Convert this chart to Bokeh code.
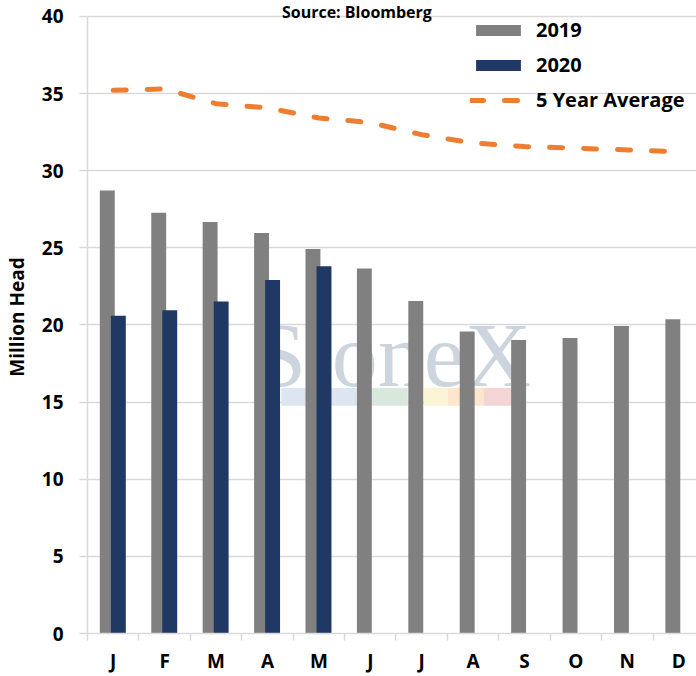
from bokeh.plotting import figure
from bokeh.models import Range1d, FixedTicker, Legend, LegendItem, Label, BoxAnnotation
from bokeh.core.properties import value
from bokeh.embed import file_html
from bokeh.resources import INLINE

# ---- data ----
months = ["J", "F", "M", "A", "M", "J", "J", "A", "S", "O", "N", "D"]
y2019 = [28.72, 27.27, 26.67, 25.97, 24.92, 23.67, 21.55, 19.57, 19.03, 19.16, 19.94, 20.37]
y2020 = [20.60, 20.95, 21.53, 22.91, 23.80]
avg5 = [35.21, 35.30, 34.35, 34.07, 33.42, 33.12, 32.34, 31.80, 31.57, 31.46, 31.35, 31.22]
y_ticks = [0, 5, 10, 15, 20, 25, 30, 35, 40]
title_text = "Source: Bloomberg"
y_label = "Million Head"
series_names = ["2019", "2020", "5 Year Average"]

# ---- styles ----
FONT = "Open Sans"
GRAY = "#808080"
NAVY = "#203864"
ORANGE = "#ED7D31"
GRID = "#d9d9d9"

idx = list(range(len(months)))
x19 = [i - 0.115 for i in idx]
x20 = [i + 0.10 for i in range(len(y2020))]

p = figure(width=696, height=676,
           x_range=Range1d(-0.5, 11.345), y_range=Range1d(0, 41.036),
           output_backend="svg", toolbar_location=None,
           min_border_left=86, min_border_right=0,
           min_border_top=0, min_border_bottom=42)
p.outline_line_color = None
p.background_fill_color = "white"
p.border_fill_color = "white"

# watermark (decorative, behind bars)
wm_bands = [(3.27, 5.02, "#dde6f0"), (5.02, 5.73, "#d9e8dc"), (6.04, 6.51, "#fbf5d6"),
            (6.51, 7.21, "#fce6cc"), (7.21, 7.77, "#f4d5d5")]
for l, r, c in wm_bands:
    p.add_layout(BoxAnnotation(left=l, right=r, bottom=14.76, top=15.92,
                               fill_color=c, fill_alpha=1, line_color=None, level="underlay"))
p.text(x=[2.76], y=[18.06], text=["StoneX"], text_font=value("Liberation Serif"),
       text_font_size="92px", text_color="#c3ccd8", text_alpha=0.85,
       text_baseline="alphabetic", text_align="left", level="underlay")

r19 = p.vbar(x=x19, top=y2019, width=0.29, fill_color=GRAY, line_color=None)
r20 = p.vbar(x=x20, top=y2020, width=0.29, fill_color=NAVY, line_color=None)
rav = p.line(x=idx, y=avg5, line_color=ORANGE, line_width=5, line_dash="13 21",
             line_cap="round", line_join="round")

# axes
p.xgrid.grid_line_color = None
p.ygrid.grid_line_color = GRID
p.ygrid.grid_line_width = 1.5
p.ygrid.ticker = FixedTicker(ticks=y_ticks)

xa = p.xaxis[0]
xa.ticker = FixedTicker(ticks=idx, minor_ticks=[i - 0.5 for i in range(len(months) + 1)])
xa.major_label_overrides = {i: m for i, m in enumerate(months)}
xa.axis_line_color = GRID
xa.axis_line_width = 1.5
xa.major_tick_out = 0
xa.major_tick_in = 0
xa.minor_tick_out = 7
xa.minor_tick_in = 0
xa.minor_tick_line_color = GRID
xa.minor_tick_line_width = 1.5
xa.major_label_text_font = FONT
xa.major_label_text_font_style = "bold"
xa.major_label_text_font_size = "19px"
xa.major_label_text_color = "black"
xa.major_label_standoff = 7

ya = p.yaxis[0]
ya.ticker = FixedTicker(ticks=y_ticks)
ya.bounds = (0, 40)
ya.axis_line_color = GRID
ya.axis_line_width = 1.5
ya.major_tick_out = 8
ya.major_tick_in = 0
ya.major_tick_line_color = GRID
ya.major_tick_line_width = 1.5
ya.minor_tick_line_color = None
ya.major_label_text_font = FONT
ya.major_label_text_font_style = "bold"
ya.major_label_text_font_size = "19px"
ya.major_label_text_color = "black"
ya.major_label_standoff = 16
ya.axis_label = y_label
ya.axis_label_text_font = FONT
ya.axis_label_text_font_style = "bold"
ya.axis_label_text_font_size = "19px"
ya.axis_label_text_color = "black"
ya.axis_label_standoff = 9

# title at the very top (above the 40 gridline)
p.add_layout(Label(x=4.74, y=40.98, text=title_text, text_font=FONT,
                   text_font_style="bold", text_font_size="16px", text_color="black",
                   text_align="center", text_baseline="top"))

legend = Legend(items=[LegendItem(label=series_names[0], renderers=[r19]),
                       LegendItem(label=series_names[1], renderers=[r20]),
                       LegendItem(label=series_names[2], renderers=[rav])],
                location=(383, 520), glyph_width=56, glyph_height=14, label_height=20,
                spacing=8, padding=0, margin=0, border_line_color=None,
                background_fill_alpha=0, label_standoff=10,
                label_text_font=FONT, label_text_font_style="bold",
                label_text_font_size="20px", label_text_color="black")
p.add_layout(legend)

open("out.html", "w").write(file_html(p, INLINE))
